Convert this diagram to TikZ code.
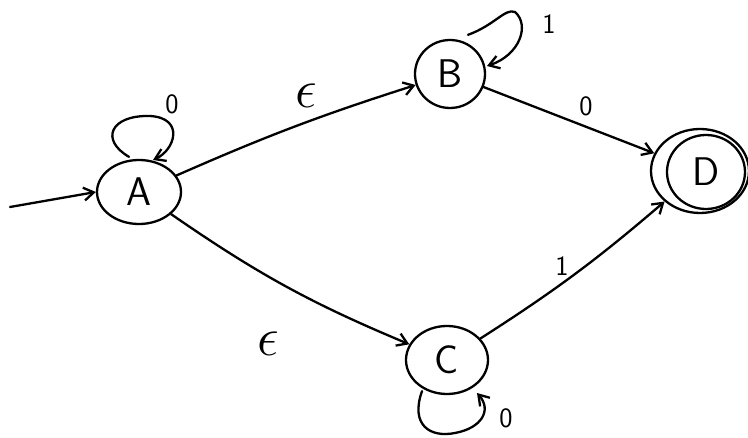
\documentclass[tikz,border=0pt]{standalone}
\usepackage{fontspec}
\usetikzlibrary{arrows.meta,shapes.geometric}
\begin{document}
\begin{tikzpicture}[x=1pt,y=-1pt,
  every path/.style={line width=2.3pt, line cap=round},
  st/.style={draw, ellipse, line width=2.3pt, inner sep=0pt, font=\sffamily\fontsize{40}{44}\selectfont},
  lbl/.style={font=\sffamily\fontsize{28}{32}\selectfont},
  eps/.style={font=\fontsize{26}{30}\selectfont},
  arr/.style={-{Straight Barb[length=10pt,width=13pt,line width=2.3pt]}}]
\useasboundingbox (0,0) rectangle (748,438);
\node[st, minimum width=84pt, minimum height=64pt] (A) at (139,192) {A};
\node[st, minimum width=70pt, minimum height=68pt] (B) at (450,74) {B};
\node[st, minimum width=82pt, minimum height=68pt] (C) at (447,360) {C};
\node[st, minimum width=78pt, minimum height=74pt] (D) at (706,172) {D};
\node[draw, ellipse, line width=2.3pt, minimum width=98pt, minimum height=84pt] (Do) at (700,171) {};
\coordinate (start) at (10,207);
\draw[arr] (start) -- (A.west);
\draw[arr] (A.north) ++(-10,-2) .. controls (100,140) and (110,115) .. (150,116) .. controls (185,118) and (175,150) .. (153,160);
\draw[arr] (B.north) ++(18,-4) .. controls (495,25) and (505,8) .. (515,12) .. controls (530,25) and (520,55) .. (487,66);
\draw[arr] (C.south) ++(-25,-4) .. controls (410,425) and (430,438) .. (455,433) .. controls (482,428) and (492,410) .. (477,393);
\draw[arr] (A) to[bend left=3] (B);
\draw[arr] (A) to[bend right=6] (C);
\draw[arr] (B) -- (Do);
\draw[arr] (C) to[bend right=4] (Do);
\node[lbl] (lA) at (172,104) {0};
\node[lbl] (lB) at (549,24) {1};
\node[lbl] (lC) at (506,418) {0};
\node[eps] (lAB) at (306,96) {\scalebox{2.2}{$\epsilon$}};
\node[eps] (lAC) at (268,344) {\scalebox{2.2}{$\epsilon$}};
\node[lbl] (lBD) at (586,106) {0};
\node[lbl] (lCD) at (562,266) {1};
\end{tikzpicture}
\end{document}
